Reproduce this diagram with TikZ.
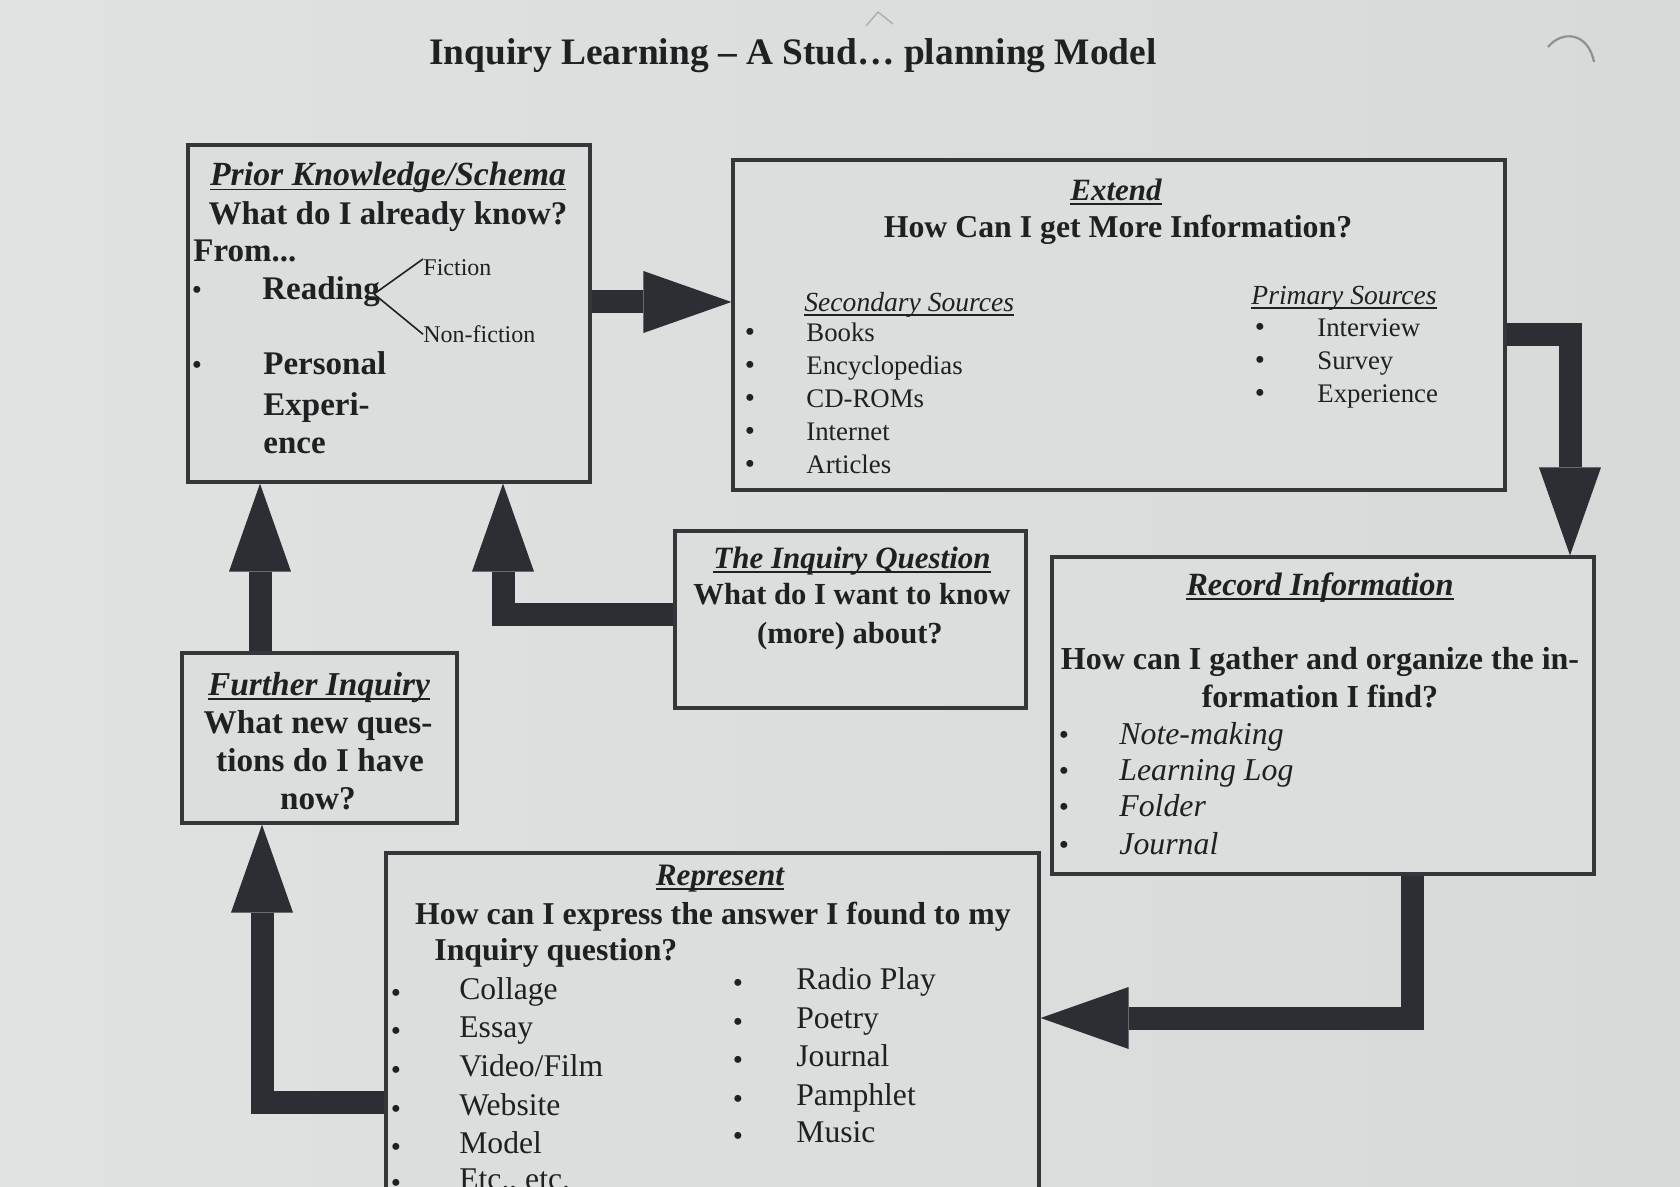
\documentclass[tikz,border=0pt]{standalone}
\usepackage{fontspec}
\setmainfont{Liberation Serif}
\usetikzlibrary{arrows.meta}
\definecolor{bgc}{HTML}{D8DAD9}
\definecolor{bgl}{HTML}{E0E2E1}
\definecolor{boxfill}{HTML}{DCDEDD}
\definecolor{boxline}{HTML}{34373A}
\definecolor{ink}{HTML}{1F2022}
\definecolor{arrc}{HTML}{2B2E32}
\definecolor{markc}{HTML}{8E9190}
\newcommand\myhdr[1]{\setbox0\hbox{#1}\rlap{\rule[-2.4pt]{\wd0}{0.9pt}}\box0}
\newcommand\fs[1]{\fontsize{#1}{1.2\dimexpr#1\relax}\selectfont}
\begin{document}
\begin{tikzpicture}[x=0.5pt,y=-0.5pt,
 txt/.style={inner sep=0pt, text=ink, anchor=mid, yshift=-3.75pt},
 lft/.style={txt, anchor=mid west},
 box/.style={draw=boxline, line width=1.6pt, fill=boxfill, inner sep=0pt},
 bigarrow/.style={draw=arrc, line width=11.5pt, line join=miter,
   -{Triangle[width=31pt,length=44pt,line width=0pt]}},
 thin/.style={draw=ink, line width=0.8pt},
 bul/.style={txt, font=\fs{14.5pt}},
 pkb/.style={font=\fs{16.5pt}\bfseries},
 pkh/.style={font=\fs{16.9pt}\bfseries\itshape},
 smr/.style={font=\fs{12pt}},
 exh/.style={font=\fs{15.5pt}\bfseries\itshape},
 exq/.style={font=\fs{15.9pt}\bfseries},
 exs/.style={font=\fs{13.8pt}\itshape},
 exi/.style={font=\fs{13.4pt}},
 iqh/.style={font=\fs{15.5pt}\bfseries\itshape},
 iqq/.style={font=\fs{15.3pt}\bfseries},
 fih/.style={font=\fs{16.7pt}\bfseries\itshape},
 fiq/.style={font=\fs{16.6pt}\bfseries},
 rch/.style={font=\fs{16.2pt}\bfseries\itshape},
 rcq/.style={font=\fs{16pt}\bfseries},
 rci/.style={font=\fs{15.9pt}\itshape},
 rph/.style={font=\fs{15.6pt}\bfseries\itshape},
 rpq/.style={font=\fs{15.9pt}\bfseries},
 rpi/.style={font=\fs{15.8pt}},
 ttl/.style={font=\fs{18.7pt}\bfseries}
]
\shade[left color=bgl, right color=bgc] (0,0) rectangle (1680,1187);
\useasboundingbox (0,0) rectangle (1680,1187);
\clip (0,0) rectangle (1680,1187);

% paper marks
\draw[draw=markc, line width=1.1pt] (1548,47) .. controls (1562,30) and (1588,32) .. (1594,62);
\draw[draw=markc!60!bgc, line width=0.7pt] (866,26) -- (878,12) -- (893,24);

% title
\node[txt, ttl] (title) at (793,52) {Inquiry Learning – A Stud… planning Model};

% boxes
\node[box, minimum width=201pt, minimum height=168.5pt] (pk) at (389,313.5) {};
\node[box, minimum width=386pt, minimum height=165pt] (ex) at (1119,325) {};
\node[box, minimum width=175.5pt, minimum height=88.5pt] (iq) at (850.5,619.5) {};
\node[box, minimum width=137.5pt, minimum height=85pt] (fi) at (319.5,738) {};
\node[box, minimum width=271pt, minimum height=158.5pt] (rc) at (1323,715.5) {};
\node[box, minimum width=326.5pt, minimum height=183.5pt] (rp) at (712.5,1036.5) {};

% connectors
\draw[bigarrow] (pk.east |- 0,302) -- (ex.west |- 0,302);
\draw[bigarrow] (ex.east |- 0,335) -- (1570,335) -- (1570,0 |- rc.north);
\draw[bigarrow] (1412,0 |- rc.south) -- (1412,1018) -- (rp.east |- 0,1018);
\draw[bigarrow] (rp.west |- 0,1102) -- (262,1102) -- (262,0 |- fi.south);
\draw[bigarrow] (260,0 |- fi.north) -- (260,0 |- pk.south);
\draw[bigarrow] (iq.west |- 0,614) -- (503,614) -- (503,0 |- pk.south);

% Prior knowledge
\node[txt, pkh] (pkh) at (388,173.5) {\myhdr{Prior Knowledge/Schema}};
\node[txt, pkb] (pkq) at (388,212) {What do I already know?};
\node[lft, pkb] (from) at (193,249) {From...};
\node[bul] (pkb1) at (197,287) {•};
\node[lft, pkb] (read) at (262,287) {Reading};
\node[lft, smr, anchor=north west] (fic) at (423,251.5) {Fiction};
\node[lft, smr] (nfic) at (423,330.5) {Non-fiction};
\coordinate (rj) at (374,294);
\draw[thin] (rj) -- (fic.north west);
\draw[thin] (rj) -- (nfic.west);
\node[bul] (pkb2) at (197,362) {•};
\node[lft, pkb] (pers1) at (263,362) {Personal};
\node[lft, pkb] (pers2) at (263,403) {Experi-};
\node[lft, pkb] (pers3) at (263,441) {ence};

% Extend
\node[txt, exh] (exh) at (1116,188) {\myhdr{Extend}};
\node[txt, exq] (exq) at (1118,225) {How Can I get More Information?};
\node[lft, exs] (sec) at (804,299) {\myhdr{Secondary Sources}};
\node[bul] (sb1) at (750,329) {•};
\node[lft, exi] (s1) at (806,329) {Books};
\node[bul] (sb2) at (750,362) {•};
\node[lft, exi] (s2) at (806,362) {Encyclopedias};
\node[bul] (sb3) at (750,395) {•};
\node[lft, exi] (s3) at (806,395) {CD-ROMs};
\node[bul] (sb4) at (750,428) {•};
\node[lft, exi] (s4) at (806,428) {Internet};
\node[bul] (sb5) at (750,461) {•};
\node[lft, exi] (s5) at (806,461) {Articles};
\node[lft, exs] (pri) at (1251,292) {\myhdr{Primary Sources}};
\node[bul] (pb1) at (1260,324) {•};
\node[lft, exi] (p1) at (1317,324) {Interview};
\node[bul] (pb2) at (1260,357) {•};
\node[lft, exi] (p2) at (1317,357) {Survey};
\node[bul] (pb3) at (1260,390) {•};
\node[lft, exi] (p3) at (1317,390) {Experience};

% Inquiry question
\node[txt, iqh] (iqh) at (852,556) {\myhdr{The Inquiry Question}};
\node[txt, iqq] (iq1) at (852,592) {What do I want to know};
\node[txt, iqq] (iq2) at (850,631) {(more) about?};

% Further inquiry
\node[txt, fih] (fih) at (319,683) {\myhdr{Further Inquiry}};
\node[txt, fiq] (fi1) at (318,721) {What new ques-};
\node[txt, fiq] (fi2) at (320,759) {tions do I have};
\node[txt, fiq] (fi3) at (318,797) {now?};

% Record information
\node[txt, rch] (rch) at (1320,583) {\myhdr{Record Information}};
\node[txt, rcq] (rc1) at (1320,657) {How can I gather and organize the in-};
\node[txt, rcq] (rc2) at (1320,695) {formation I find?};
\node[bul] (rb1) at (1064,732) {•};
\node[lft, rci] (r1) at (1119,732) {Note-making};
\node[bul] (rb2) at (1064,768) {•};
\node[lft, rci] (r2) at (1119,768) {Learning Log};
\node[bul] (rb3) at (1064,804) {•};
\node[lft, rci] (r3) at (1119,804) {Folder};
\node[bul] (rb4) at (1064,842) {•};
\node[lft, rci] (r4) at (1119,842) {Journal};

% Represent
\node[txt, rph] (rph) at (720,873) {\myhdr{Represent}};
\node[txt, rpq] (rp1) at (713,912) {How can I express the answer I found to my};
\node[lft, rpq] (rp2) at (434,948) {Inquiry question?};
\node[bul] (lb1) at (396,990) {•};
\node[lft, rpi] (l1) at (459,987) {Collage};
\node[bul] (lb2) at (396,1028) {•};
\node[lft, rpi] (l2) at (459,1025) {Essay};
\node[bul] (lb3) at (396,1067) {•};
\node[lft, rpi] (l3) at (459,1064) {Video/Film};
\node[bul] (lb4) at (396,1106) {•};
\node[lft, rpi] (l4) at (459,1103) {Website};
\node[bul] (lb5) at (396,1144) {•};
\node[lft, rpi] (l5) at (459,1141) {Model};
\node[bul] (lb6) at (396,1180) {•};
\node[lft, rpi] (l6) at (459,1177) {Etc., etc.};
\node[bul] (qb1) at (738,980) {•};
\node[lft, rpi] (q1) at (796,977) {Radio Play};
\node[bul] (qb2) at (738,1019) {•};
\node[lft, rpi] (q2) at (796,1016) {Poetry};
\node[bul] (qb3) at (738,1057) {•};
\node[lft, rpi] (q3) at (796,1054) {Journal};
\node[bul] (qb4) at (738,1096) {•};
\node[lft, rpi] (q4) at (796,1093) {Pamphlet};
\node[bul] (qb5) at (738,1133) {•};
\node[lft, rpi] (q5) at (796,1130) {Music};
\end{tikzpicture}
\end{document}
